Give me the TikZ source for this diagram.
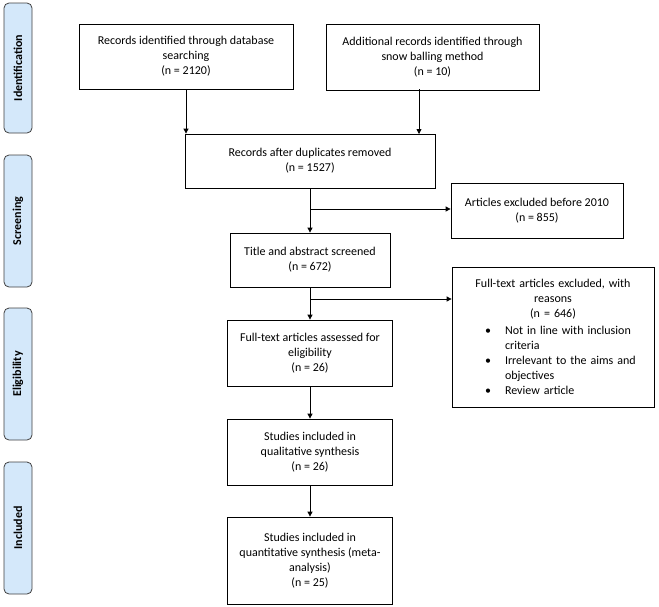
\documentclass[tikz,border=0pt]{standalone}
\usepackage{fontspec}
\setmainfont{Carlito}
\usetikzlibrary{arrows.meta}
\definecolor{sideblue}{RGB}{212,232,250}
\begin{document}
\begin{tikzpicture}[x=1pt,y=-1pt,
  box/.style={draw,line width=0.8pt,align=center,font=\fontsize{12}{15}\selectfont,inner sep=0pt},
  side/.style={draw=black!75,line width=0.8pt,fill=sideblue,rounded corners=5pt},
  sidetxt/.style={rotate=90,font=\bfseries\fontsize{12}{14}\selectfont},
  arr/.style={line width=0.8pt,-{Triangle[length=5pt,width=5pt]}}]
\useasboundingbox (0,0) rectangle (659,606);
\filldraw[side] (4,3) rectangle (32,133);
\filldraw[side] (4,155) rectangle (32,287);
\filldraw[side] (4,308) rectangle (32,440);
\filldraw[side] (4,462) rectangle (32,594);
\node[sidetxt] (s1) at (18,68) {Identification};
\node[sidetxt] (s2) at (18,221) {Screening};
\node[sidetxt] (s3) at (18,374) {Eligibility};
\node[sidetxt] (s4) at (18,528) {Included};
\node[box,minimum width=214,minimum height=65] (b1) at (186,56.5) {Records identified through database\\searching\\(n = 2120)};
\node[box,minimum width=213,minimum height=66] (b2) at (432.5,57) {Additional records identified through\\snow balling method\\(n = 10)};
\node[box,minimum width=250,minimum height=54] (b3) at (310,161) {Records after duplicates removed\\(n = 1527)};
\node[box,minimum width=172,minimum height=55] (b4) at (537,210.5) {Articles excluded before 2010\\(n = 855)};
\node[box,minimum width=160,minimum height=54] (b5) at (310,260) {Title and abstract screened\\(n = 672)};
\node[box,minimum width=202,minimum height=140,text width=190] (b6) at (553,337) {\centering Full-text articles excluded, with\\reasons\\(n = 646)\par
\raggedright
\begin{list}{\textbullet}{\leftmargin=47pt\rightmargin=8pt\labelsep=14pt\itemsep=0pt\parsep=0pt\topsep=0pt}
\item Not in line with inclusion criteria
\item Irrelevant to the aims and objectives
\item Review article
\end{list}};
\node[box,minimum width=165,minimum height=66] (b7) at (310,353) {Full-text articles assessed for\\eligibility\\(n = 26)};
\node[box,minimum width=165,minimum height=66] (b8) at (310,452) {Studies included in\\qualitative synthesis\\(n = 26)};
\node[box,minimum width=165,minimum height=87] (b9) at (310,560.5) {Studies included in\\quantitative synthesis (meta-\\analysis)\\(n = 25)};
\draw[arr] (b1.south) -- (b1.south |- b3.north);
\draw[arr] (419,89) -- (419,134);
\coordinate (j1) at (310,209);
\coordinate (j2) at (310,299);
\draw[arr] (b3.south) -- (b5.north);
\draw[arr] (j1) -- (j1 -| b4.west);
\draw[arr] (b5.south) -- (b7.north);
\draw[arr] (j2) -- (j2 -| b6.west);
\draw[arr] (b7.south) -- (b8.north);
\draw[arr] (b8.south) -- (b9.north);
\end{tikzpicture}
\end{document}
